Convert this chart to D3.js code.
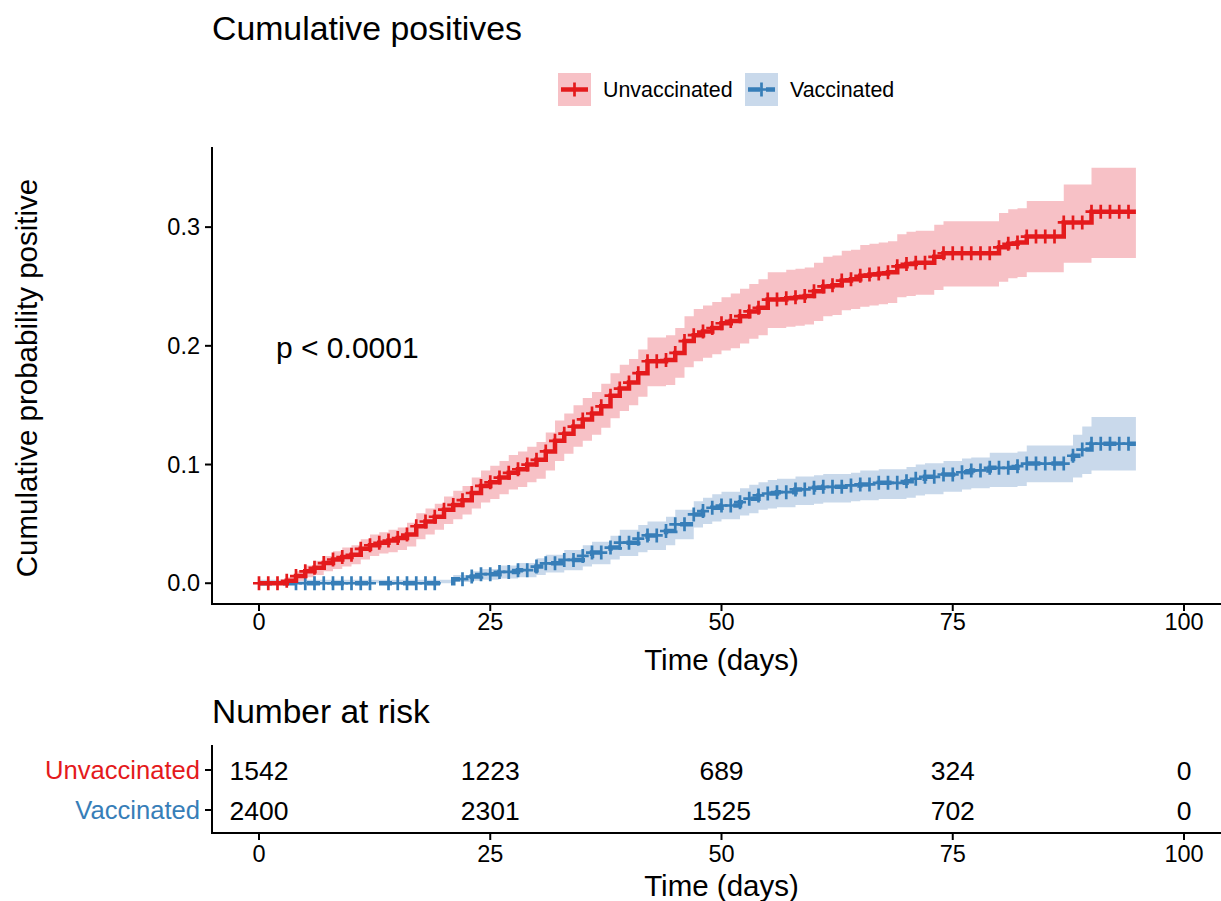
<!DOCTYPE html>
<html><head><meta charset="utf-8">
<script src="https://cdn.jsdelivr.net/npm/d3@7"></script>
<style>body{margin:0;background:#fff} text{font-family:"Liberation Sans",Arial,Helvetica,sans-serif}</style>
</head><body>
<svg id="c" width="1221" height="901"></svg>
<script>
// ---- data ----
const days = [0,1,2,3,4,5,6,7,8,9,10,11,12,13,14,15,16,17,18,19,20,21,22,23,24,25,26,27,28,29,30,31,32,33,34,35,36,37,38,39,40,41,42,43,44,45,46,47,48,49,50,51,52,53,54,55,56,57,58,59,60,61,62,63,64,65,66,67,68,69,70,71,72,73,74,75,76,77,78,79,80,81,82,83,84,85,86,87,88,89,90,91,92,93,94];
const endTime = 94.8;
const unvaccEst = [
0,0,0,0.002,0.006,0.010,0.013,0.017,0.020,0.022,
0.024,0.029,0.032,0.034,0.036,0.038,0.041,0.048,0.052,0.056,
0.062,0.066,0.070,0.076,0.082,0.085,0.089,0.093,0.096,0.100,
0.104,0.111,0.120,0.126,0.132,0.138,0.143,0.149,0.158,0.164,
0.169,0.177,0.187,0.187,0.188,0.194,0.204,0.209,0.212,0.215,
0.219,0.221,0.225,0.229,0.232,0.239,0.239,0.240,0.241,0.242,
0.246,0.250,0.251,0.255,0.256,0.259,0.260,0.261,0.262,0.267,
0.269,0.270,0.270,0.275,0.278,0.278,0.278,0.278,0.278,0.278,
0.283,0.286,0.287,0.292,0.292,0.292,0.292,0.304,0.304,0.304,
0.313,0.313,0.313,0.313,0.313];
const unvaccLower = [
0,0,0,0,0.002,0.005,0.007,0.010,0.012,0.014,
0.016,0.020,0.023,0.025,0.026,0.028,0.031,0.037,0.041,0.045,
0.050,0.054,0.058,0.063,0.068,0.071,0.075,0.079,0.081,0.085,
0.088,0.095,0.103,0.109,0.115,0.120,0.125,0.131,0.139,0.145,
0.150,0.157,0.166,0.166,0.167,0.173,0.182,0.187,0.190,0.193,
0.196,0.198,0.202,0.206,0.209,0.215,0.215,0.216,0.217,0.218,
0.221,0.225,0.226,0.230,0.231,0.233,0.234,0.235,0.236,0.241,
0.242,0.243,0.243,0.247,0.250,0.250,0.250,0.250,0.250,0.250,
0.254,0.257,0.258,0.262,0.262,0.262,0.262,0.270,0.270,0.270,
0.274,0.274,0.274,0.274,0.274];
const unvaccUpper = [
0,0,0,0.005,0.010,0.015,0.019,0.023,0.027,0.030,
0.032,0.037,0.041,0.043,0.045,0.047,0.051,0.059,0.063,0.067,
0.073,0.078,0.082,0.089,0.095,0.099,0.103,0.108,0.111,0.115,
0.119,0.127,0.137,0.143,0.150,0.156,0.161,0.168,0.177,0.184,
0.189,0.197,0.207,0.207,0.209,0.215,0.225,0.231,0.234,0.237,
0.241,0.244,0.248,0.252,0.256,0.262,0.262,0.264,0.265,0.266,
0.270,0.275,0.276,0.280,0.281,0.285,0.286,0.287,0.288,0.294,
0.296,0.297,0.297,0.302,0.305,0.305,0.305,0.305,0.305,0.305,
0.312,0.315,0.316,0.322,0.322,0.322,0.322,0.336,0.336,0.336,
0.350,0.350,0.350,0.350,0.350];
const vaccEst = [
0,0,0,0,0,0,0,0,0,0,
0,0,0,0,0,0,0,0,0,0,
0,0.0034,0.0034,0.0056,0.0076,0.0076,0.0095,0.0095,0.011,0.011,
0.014,0.0168,0.0168,0.0196,0.0196,0.023,0.0258,0.0258,0.030,0.0342,
0.0342,0.0375,0.0403,0.0403,0.044,0.0496,0.0496,0.058,0.0608,0.0636,
0.0655,0.0655,0.0683,0.0712,0.074,0.0756,0.0767,0.0767,0.079,0.079,
0.0804,0.0812,0.0812,0.0812,0.0824,0.0832,0.0832,0.0846,0.0846,0.0846,
0.086,0.088,0.0896,0.0896,0.0916,0.0916,0.0935,0.095,0.095,0.0972,
0.0972,0.0972,0.0986,0.1008,0.1008,0.1008,0.1008,0.1008,0.1074,0.1126,
0.1176,0.1176,0.1176,0.1176,0.1176];
const vaccLower = [
0,0,0,0,0,0,0,0,0,0,
0,0,0,0,0,0,0,0,0,0,
0,0.001,0.001,0.002,0.003,0.003,0.004,0.004,0.005,0.005,
0.007,0.009,0.009,0.011,0.011,0.014,0.016,0.016,0.020,0.023,
0.023,0.026,0.028,0.028,0.032,0.037,0.037,0.047,0.050,0.052,
0.054,0.054,0.057,0.059,0.062,0.063,0.064,0.064,0.066,0.066,
0.067,0.068,0.068,0.068,0.069,0.070,0.070,0.071,0.071,0.071,
0.072,0.074,0.075,0.075,0.077,0.077,0.079,0.080,0.080,0.081,
0.081,0.081,0.082,0.085,0.085,0.085,0.085,0.085,0.089,0.092,
0.095,0.095,0.095,0.095,0.095];
const vaccUpper = [
0.003,0.003,0.003,0.003,0.003,0.003,0.003,0.003,0.003,0.003,
0.003,0.003,0.003,0.003,0.003,0.003,0.003,0.003,0.003,0.003,
0.003,0.007,0.007,0.010,0.012,0.012,0.015,0.015,0.017,0.017,
0.021,0.024,0.024,0.028,0.028,0.032,0.035,0.035,0.040,0.045,
0.045,0.049,0.052,0.052,0.056,0.062,0.062,0.069,0.072,0.075,
0.077,0.077,0.080,0.083,0.085,0.087,0.088,0.088,0.090,0.090,
0.091,0.092,0.092,0.092,0.093,0.095,0.095,0.096,0.096,0.096,
0.098,0.100,0.101,0.101,0.103,0.103,0.105,0.106,0.106,0.110,
0.110,0.110,0.111,0.116,0.116,0.116,0.116,0.116,0.125,0.132,
0.140,0.140,0.140,0.140,0.140];
const unvaccCensor = [0,1,2,3,4,5,6,7,8,9,10,11,12,13,14,15,16,17,18,19,20,21,22,23,24,25,26,27,28,29,30,31,32,33,34,35,36,37,38,39,40,41,42,43,44,45,46,47,48,49,50,51,52,53,54,55,56,57,58,59,60,61,62,63,64,65,66,67,68,69,70,71,72,73,74,75,76,77,78,79,80,81,82,83,84,85,86,87,88,89,90,91,92,93,94];
const vaccCensor = [4,5,6,7,8,9,10,11,12,14,15,16,17,18,19,22,23,24,25,26,27,28,29,30,31,32,33,34,35,36,37,38,39,40,41,42,43,44,45,46,47,48,49,50,51,52,53,54,55,56,57,58,59,60,61,62,63,64,65,66,67,68,69,70,71,72,73,74,75,76,77,78,79,80,81,82,83,84,85,86,87,88,89,90,91,92,93,94];
const groups = ["Unvaccinated","Vaccinated"];
const xTicks = [0,25,50,75,100];
const yTicks = [0.0,0.1,0.2,0.3];
const riskTimes = [0,25,50,75,100];
const riskUnvacc = [1542,1223,689,324,0];
const riskVacc = [2400,2301,1525,702,0];

// ---- styles ----
const lineCol = {Unvaccinated:"#E41A1C", Vaccinated:"#377EB8"};
const bandCol = {Unvaccinated:"#F7C1C6", Vaccinated:"#C9D9EB"};
const dash = {Unvaccinated:null, Vaccinated:"13,11"};

const svg = d3.select("#c");
const x = d3.scaleLinear().domain([0,100]).range([259,1184]);
const y = d3.scaleLinear().domain([-0.0175,0.3675]).range([604,147]);

const series = [
  {name:"Vaccinated", est:vaccEst, lo:vaccLower, hi:vaccUpper, cens:vaccCensor},
  {name:"Unvaccinated", est:unvaccEst, lo:unvaccLower, hi:unvaccUpper, cens:unvaccCensor}
];
series.forEach(s=>{
  s.pts = days.map((d,i)=>({t:d, e:s.est[i], lo:s.lo[i], hi:s.hi[i]}));
  const last = s.pts[s.pts.length-1];
  s.pts.push({t:endTime, e:last.e, lo:last.lo, hi:last.hi});
});

// title
svg.append("text").attr("x",212).attr("y",39.5).attr("font-size",33.8).attr("fill","#000").text("Cumulative positives");

// bands
const area = d3.area().curve(d3.curveStepAfter).x(d=>x(d.t)).y0(d=>y(d.lo)).y1(d=>y(d.hi));
const line = d3.line().curve(d3.curveStepAfter).x(d=>x(d.t)).y(d=>y(d.e));
series.forEach(s=>{
  svg.append("path").attr("d",area(s.pts)).attr("fill",bandCol[s.name]).attr("stroke","none");
});
const cross = "M-6,0H6M0,-7V7";
series.forEach(s=>{
  const p = svg.append("path").attr("d",line(s.pts)).attr("fill","none")
    .attr("stroke",lineCol[s.name]).attr("stroke-width",4.5).attr("stroke-linejoin","miter");
  if(dash[s.name]) p.attr("stroke-dasharray",dash[s.name]);
  const idx = d3.bisector(d=>d).right;
  svg.append("g").selectAll("path").data(s.cens).join("path")
    .attr("transform",d=>{const i=Math.max(0,idx(days,d)-1);return `translate(${x(d)},${y(s.est[i])})`;})
    .attr("d",cross).attr("stroke",lineCol[s.name]).attr("stroke-width",2.7).attr("fill","none");
});

// axes main
const ax = svg.append("g").attr("stroke","#000").attr("stroke-width",2);
ax.append("line").attr("x1",212).attr("x2",212).attr("y1",147).attr("y2",605);
ax.append("line").attr("x1",211).attr("x2",1221).attr("y1",604).attr("y2",604);
yTicks.forEach(v=>{
  ax.append("line").attr("x1",205).attr("x2",212).attr("y1",y(v)).attr("y2",y(v));
  svg.append("text").attr("x",200).attr("y",y(v)).attr("dy","0.35em").attr("text-anchor","end")
    .attr("font-size",23.5).text(d3.format(".1f")(v));
});
xTicks.forEach(v=>{
  ax.append("line").attr("x1",x(v)).attr("x2",x(v)).attr("y1",604).attr("y2",611);
  svg.append("text").attr("x",x(v)).attr("y",630).attr("text-anchor","middle").attr("font-size",23.5).text(v);
});
svg.append("text").attr("x",x(50)).attr("y",670).attr("text-anchor","middle").attr("font-size",29.5).text("Time (days)");
svg.append("text").attr("transform","translate(37,378) rotate(-90)").attr("text-anchor","middle")
  .attr("font-size",29.5).text("Cumulative probability positive");
svg.append("text").attr("x",276).attr("y",358).attr("font-size",30).text("p < 0.0001");

// legend
const legX = {Unvaccinated:558, Vaccinated:745};
groups.forEach(g=>{
  const lx = legX[g], ly = 73, sz = 33;
  svg.append("rect").attr("x",lx).attr("y",ly).attr("width",sz).attr("height",sz).attr("fill",bandCol[g]);
  const l = svg.append("line").attr("x1",lx+3).attr("x2",lx+sz-3).attr("y1",ly+sz/2).attr("y2",ly+sz/2)
    .attr("stroke",lineCol[g]).attr("stroke-width",4.5);
  if(dash[g]) l.attr("stroke-dasharray","12,6");
  svg.append("path").attr("d",cross).attr("transform",`translate(${lx+sz/2},${ly+sz/2})`)
    .attr("stroke",lineCol[g]).attr("stroke-width",2.7).attr("fill","none");
  svg.append("text").attr("x",lx+45).attr("y",ly+sz/2).attr("dy","0.35em").attr("font-size",21.4).text(g);
});

// risk table
svg.append("text").attr("x",212).attr("y",723).attr("font-size",33.5).text("Number at risk");
const rt = svg.append("g").attr("stroke","#000").attr("stroke-width",2);
rt.append("line").attr("x1",212).attr("x2",212).attr("y1",745).attr("y2",834);
rt.append("line").attr("x1",211).attr("x2",1221).attr("y1",833).attr("y2",833);
const rowY = {Unvaccinated:770, Vaccinated:810};
const riskVals = {Unvaccinated:riskUnvacc, Vaccinated:riskVacc};
groups.forEach(g=>{
  rt.append("line").attr("x1",205).attr("x2",212).attr("y1",rowY[g]).attr("y2",rowY[g]);
  svg.append("text").attr("x",200).attr("y",rowY[g]).attr("dy","0.35em").attr("text-anchor","end")
    .attr("font-size",25.6).attr("fill",lineCol[g]).text(g);
  riskTimes.forEach((t,i)=>{
    svg.append("text").attr("x",x(t)).attr("y",rowY[g]).attr("dy","0.37em").attr("text-anchor","middle")
      .attr("font-size",26.5).text(riskVals[g][i]);
  });
});
xTicks.forEach(v=>{
  rt.append("line").attr("x1",x(v)).attr("x2",x(v)).attr("y1",833).attr("y2",840);
  svg.append("text").attr("x",x(v)).attr("y",862).attr("text-anchor","middle").attr("font-size",23.5).text(v);
});
svg.append("text").attr("x",x(50)).attr("y",896).attr("text-anchor","middle").attr("font-size",29.5).text("Time (days)");
</script>
</body></html>
